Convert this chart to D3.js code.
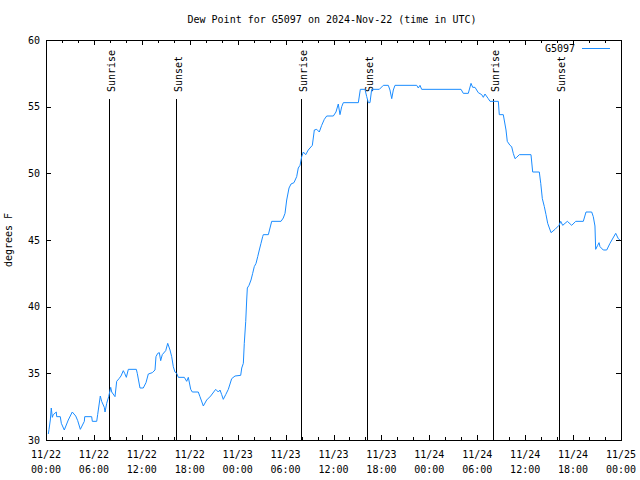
<!DOCTYPE html>
<html>
<head>
<meta charset="utf-8">
<script src="https://cdn.jsdelivr.net/npm/d3@7"></script>
<style>
html,body{margin:0;padding:0;background:#fff;}
svg{display:block;}
text{font-family:"DejaVu Sans Mono",monospace;font-size:10px;fill:#000;}
</style>
</head>
<body>
<svg id="chart" width="640" height="480"></svg>
<script>
// ---- data (hours since 2024-11-22 00:00 UTC, dew point °F) ----
const hours = [0.29,0.38,0.54,0.66,0.79,0.91,1.29,1.34,1.79,1.92,2.29,2.79,3.29,3.72,3.97,4.30,4.80,4.85,5.72,5.80,6.35,6.47,6.80,6.97,7.30,7.39,7.60,7.85,8.10,8.23,8.64,8.85,9.14,9.39,9.68,9.85,10.06,10.31,11.31,11.43,11.77,12.18,12.52,12.81,13.31,13.65,13.77,13.99,14.19,14.36,14.56,14.99,15.24,15.53,15.74,15.94,16.15,16.37,16.57,17.32,17.62,17.82,18.12,18.32,19.07,19.28,19.70,20.12,20.62,21.25,21.58,21.79,22.00,22.20,22.50,22.83,23.25,23.67,24.38,24.51,24.71,24.83,25.01,25.13,25.21,25.42,25.67,25.88,26.08,26.30,26.51,26.71,26.92,27.13,27.21,27.84,28.05,28.26,29.43,29.71,29.93,30.14,30.43,30.68,31.05,31.39,31.59,31.81,32.02,32.22,32.52,32.84,33.35,33.60,33.90,34.22,34.52,34.85,35.15,35.98,36.31,36.60,36.81,37.03,37.23,39.11,39.36,39.94,40.16,40.36,40.57,40.78,41.74,42.24,42.86,43.07,43.29,43.49,43.70,46.42,46.62,46.83,47.04,51.97,52.25,52.88,53.22,53.43,53.72,54.13,54.56,54.76,54.97,55.38,55.60,56.64,56.76,57.26,57.60,57.76,58.10,58.31,58.51,58.73,58.94,59.27,60.73,60.94,61.77,61.95,62.15,62.40,62.61,62.82,63.24,63.74,64.24,64.45,64.70,65.28,65.83,66.33,67.28,67.62,68.33,68.53,68.74,68.83,69.08,69.25,69.37,69.78,70.21,70.62,71.34,71.66,71.87];
const dewPoint = [30.45,30.8,31.5,32.4,31.7,31.9,32.1,31.75,31.75,31.25,30.75,31.5,32.1,31.8,31.45,30.8,31.4,31.75,31.75,31.4,31.4,31.9,33.3,32.9,32.45,32.1,32.75,33.25,33.95,33.6,33.25,34.4,34.6,34.8,35.2,35.0,34.7,35.3,35.3,35.0,33.9,33.9,34.3,34.95,35.05,35.25,36.25,36.5,36.55,35.95,36.4,36.7,37.25,36.75,36.25,35.5,35.1,35.0,34.7,34.7,34.4,34.7,33.8,33.6,33.6,33.25,32.55,33.0,33.3,33.8,33.6,33.75,33.4,33.05,33.4,33.8,34.6,34.8,34.85,35.4,35.75,37.25,38.9,40.5,41.4,41.6,42.0,42.5,43.0,43.25,43.75,44.25,44.75,45.25,45.4,45.4,45.9,46.4,46.4,46.65,47.0,48.0,48.9,49.2,49.3,49.75,50.4,50.6,51.25,51.6,51.4,51.75,52.1,53.25,53.3,53.1,53.6,54.05,54.3,54.3,54.6,55.2,54.4,55.0,55.3,55.3,56.3,56.3,55.75,55.3,55.3,56.3,56.3,56.6,56.6,56.25,55.6,56.25,56.6,56.6,56.4,56.6,56.3,56.3,56.0,56.0,56.75,56.45,56.45,56.05,55.9,55.7,55.95,55.6,55.4,55.4,54.4,54.4,53.25,52.4,52.1,52.0,51.5,51.1,51.2,51.4,51.4,50.1,50.1,49.25,48.1,47.5,46.9,46.25,45.55,45.8,46.1,46.4,46.1,46.4,46.1,46.4,46.4,47.1,47.1,46.75,46.05,44.3,44.6,44.8,44.5,44.25,44.25,44.75,45.5,45.1,45.0];

const sunHours  = [7.93, 16.32, 31.93, 40.25, 56.0, 64.24];
const sunLabels = ["Sunrise","Sunset","Sunrise","Sunset","Sunrise","Sunset"];

const xTickHours = [0,6,12,18,24,30,36,42,48,54,60,66,72];
const xTickDates = ["11/22","11/22","11/22","11/22","11/23","11/23","11/23","11/23","11/24","11/24","11/24","11/24","11/25"];
const xTickTimes = ["00:00","06:00","12:00","18:00","00:00","06:00","12:00","18:00","00:00","06:00","12:00","18:00","00:00"];
const xMinorHours = d3.range(0, 73, 2);
const yTicks = [30,35,40,45,50,55,60];

const titleText = "Dew Point for G5097 on 2024-Nov-22 (time in UTC)";
const yLabelText = "degrees F";
const seriesName = "G5097";

// ---- layout ----
const L = 46, R = 621, T = 40, B = 440;
const svg = d3.select("#chart");
const x = d3.scaleLinear().domain([0, 72]).range([L, R]);
const y = d3.scaleLinear().domain([30, 60]).range([B, T]);
const lineColor = "#1a8cff";

// minor ticks (bottom & top)
const g = svg.append("g").attr("shape-rendering", "crispEdges");
xMinorHours.forEach(h => {
  const major = h % 6 === 0;
  const len = major ? 5 : 3;
  const px = Math.round(x(h)) + 0.5;
  g.append("line").attr("x1", px).attr("x2", px).attr("y1", B).attr("y2", B - len).attr("stroke", "#000");
  g.append("line").attr("x1", px).attr("x2", px).attr("y1", T).attr("y2", T + len).attr("stroke", "#000");
});
yTicks.forEach(v => {
  const py = Math.round(y(v)) + 0.5;
  g.append("line").attr("x1", L).attr("x2", L + 5).attr("y1", py).attr("y2", py).attr("stroke", "#000");
  g.append("line").attr("x1", R - 5).attr("x2", R).attr("y1", py).attr("y2", py).attr("stroke", "#000");
});

// y tick labels via axis
const yAxis = d3.axisLeft(y).tickValues(yTicks).tickSize(0).tickPadding(6).tickFormat(d3.format("d"));
const ya = svg.append("g").attr("transform", `translate(${L},0)`).call(yAxis);
ya.select(".domain").remove();
ya.selectAll("text").attr("font-family", "DejaVu Sans Mono").attr("font-size", 10).attr("fill", "#000");

// x tick labels (two lines)
const xl = svg.append("g");
xTickHours.forEach((h, i) => {
  xl.append("text").attr("x", x(h)).attr("y", 458).attr("text-anchor", "middle").text(xTickDates[i]);
  xl.append("text").attr("x", x(h)).attr("y", 473).attr("text-anchor", "middle").text(xTickTimes[i]);
});

// sunrise / sunset lines
sunHours.forEach((h, i) => {
  const px = Math.round(x(h)) + 0.5;
  g.append("line").attr("x1", px).attr("x2", px).attr("y1", 99).attr("y2", B).attr("stroke", "#000");
  svg.append("text")
    .attr("transform", `translate(${px + 5},92) rotate(-90)`)
    .attr("text-anchor", "start")
    .text(sunLabels[i]);
});

// data line
const line = d3.line().x((d, i) => x(hours[i])).y((d, i) => y(dewPoint[i]));
svg.append("path").datum(dewPoint).attr("d", line)
  .attr("fill", "none").attr("stroke", lineColor).attr("stroke-width", 1);

// frame
g.append("rect").attr("x", L + 0.5).attr("y", T + 0.5).attr("width", R - L).attr("height", B - T)
  .attr("fill", "none").attr("stroke", "#000");

// title
svg.append("text").attr("x", 332).attr("y", 23).attr("text-anchor", "middle").text(titleText);

// y label
svg.append("text").attr("transform", "translate(12,240) rotate(-90)").attr("text-anchor", "middle").text(yLabelText);

// legend
svg.append("text").attr("x", 575).attr("y", 52).attr("text-anchor", "end").text(seriesName);
svg.append("line").attr("x1", 582).attr("x2", 610).attr("y1", 48.5).attr("y2", 48.5)
  .attr("stroke", lineColor).attr("stroke-width", 1);
</script>
</body>
</html>
